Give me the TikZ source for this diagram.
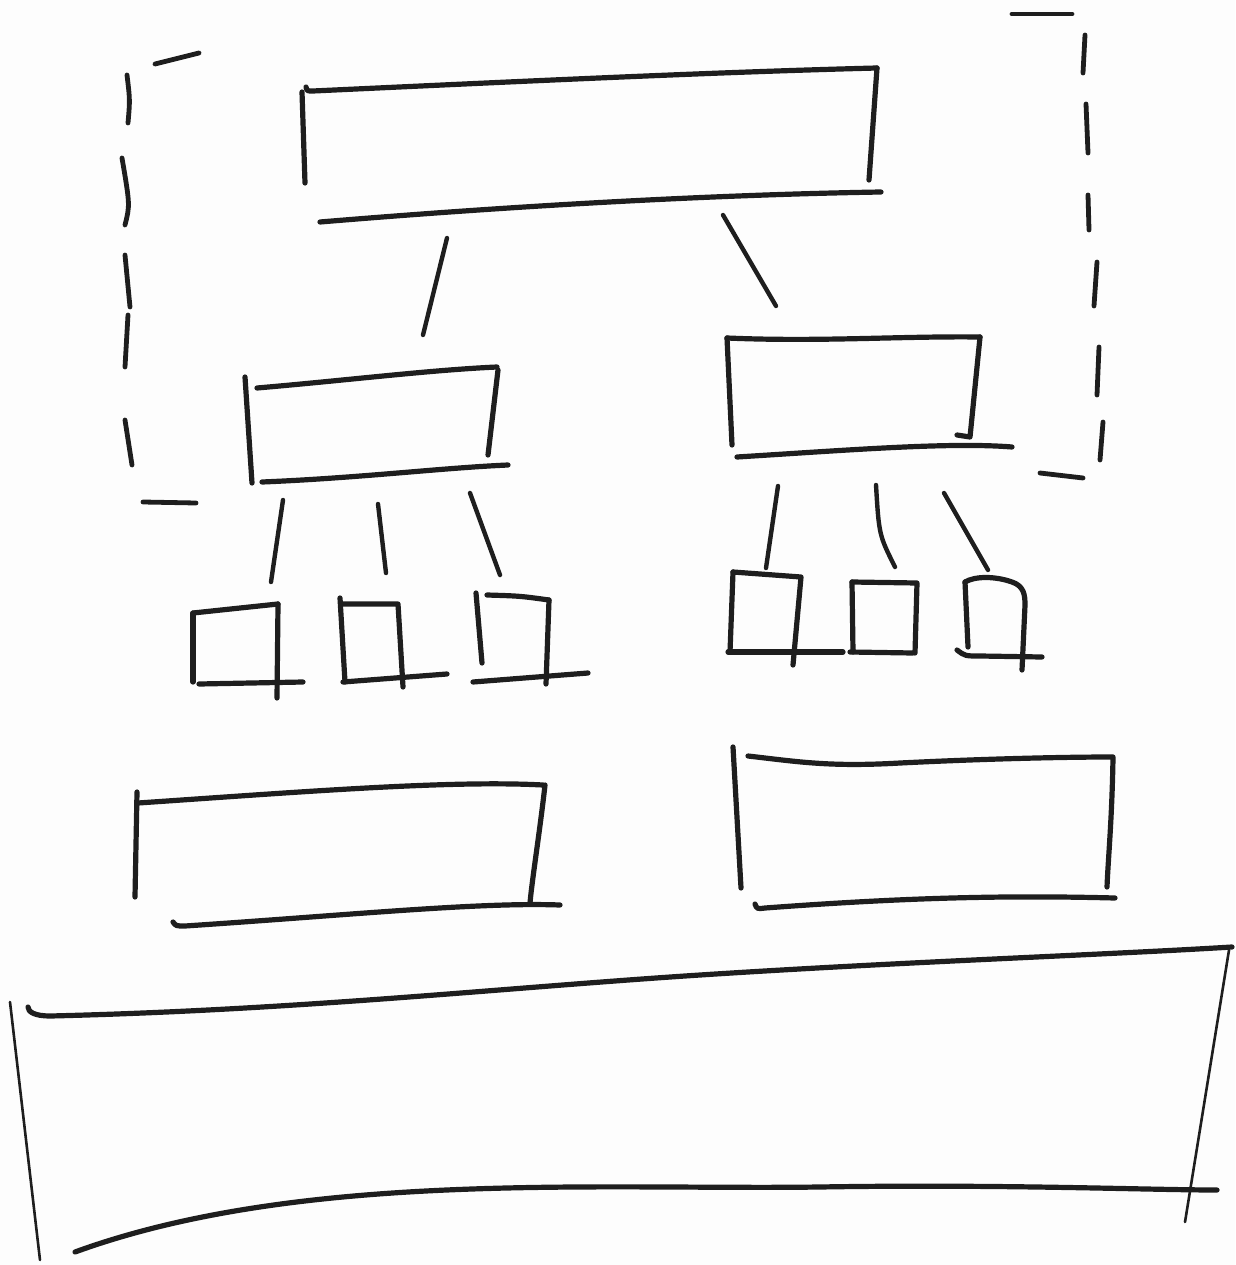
\documentclass[tikz,border=0pt]{standalone}
\begin{document}
\begin{tikzpicture}[x=1pt,y=-1pt,
  pen/.style={line width=5.2pt,line cap=round,line join=round,draw=ink},
  conn/.style={line width=4.4pt,line cap=round,draw=ink},
  dashstroke/.style={line width=4.8pt,line cap=round,draw=ink},
  thinpen/.style={line width=2.6pt,line cap=round,draw=ink}]
\definecolor{ink}{HTML}{1E1E1E}
\definecolor{paper}{HTML}{FDFDFD}
\path[fill=paper] (0,0) rectangle (1235,1265);
\useasboundingbox (0,0) rectangle (1235,1265);

% ---------- dashed bracket (left) ----------
\draw[dashstroke] (155,64) -- (199,53);
\draw[dashstroke] (127,75) .. controls (130,100) .. (128,123);
\draw[dashstroke] (122,158) .. controls (130,205) .. (125,225);
\draw[dashstroke] (125,255) -- (130,307);
\draw[dashstroke] (128,315) -- (125,367);
\draw[dashstroke] (125,420) -- (132,465);
\draw[dashstroke] (143,502) -- (196,503);
% ---------- dashed bracket (right) ----------
\draw[dashstroke] (1012,14) -- (1072,14);
\draw[dashstroke] (1085,35) -- (1083,73);
\draw[dashstroke] (1086,104) -- (1088,153);
\draw[dashstroke] (1088,195) -- (1089,230);
\draw[dashstroke] (1097,262) -- (1094,306);
\draw[dashstroke] (1099,347) -- (1097,395);
\draw[dashstroke] (1103,422) -- (1100,460);
\draw[dashstroke] (1040,473) -- (1083,478);

% ---------- top box ----------
\draw[pen] (306,87) .. controls (307,91) .. (313,91) .. controls (550,80) and (720,72) .. (877,68);
\draw[pen] (302,92) -- (305,183);
\draw[pen] (877,68) -- (869,180);
\draw[pen] (320,222) .. controls (500,207) and (700,195) .. (881,192);
\coordinate (topL) at (447,238);
\coordinate (topR) at (723,215);

% ---------- middle left box ----------
\draw[pen] (257,388) .. controls (350,380) and (430,370) .. (497,367);
\draw[pen] (245,377) -- (252,483);
\draw[pen] (498,370) -- (488,455);
\draw[pen] (262,482) .. controls (360,478) and (440,468) .. (508,465);
\coordinate (mlIn) at (423,335);
\coordinate (mlA) at (283,500);
\coordinate (mlB) at (378,504);
\coordinate (mlC) at (470,493);

% ---------- middle right box ----------
\draw[pen] (727,338) .. controls (820,342) and (900,336) .. (980,337);
\draw[pen] (727,338) -- (732,445);
\draw[pen] (980,337) -- (970,437) -- (957,435);
\draw[pen] (737,457) .. controls (850,450) and (950,442) .. (1012,447);
\coordinate (mrIn) at (776,306);
\coordinate (mrA) at (778,486);
\coordinate (mrB) at (876,485);
\coordinate (mrC) at (944,493);

% ---------- connectors ----------
\draw[conn] (topL) -- (mlIn);
\draw[conn] (topR) -- (mrIn);
\coordinate (c1) at (271,582);
\coordinate (c2) at (386,573);
\coordinate (c3) at (500,575);
\coordinate (c4) at (766,568);
\coordinate (c5) at (895,567);
\coordinate (c6) at (988,570);
\draw[conn] (mlA) -- (c1);
\draw[conn] (mlB) -- (c2);
\draw[conn] (mlC) -- (c3);
\draw[conn] (mrA) -- (c4);
\draw[conn] (mrB) .. controls (879,535) .. (c5);
\draw[conn] (mrC) -- (c6);

% ---------- small boxes left ----------
\draw[pen] (193,613) -- (193,682);
\draw[pen] (193,613) .. controls (240,608) .. (278,604);
\draw[pen] (278,604) -- (277,698);
\draw[pen] (199,684) -- (303,682);

\draw[pen] (340,598) -- (345,682);
\draw[pen] (343,604) -- (398,604) -- (403,687);
\draw[pen] (343,682) -- (447,674);

\draw[pen] (476,593) -- (482,663);
\draw[pen] (487,595) .. controls (520,596) .. (549,600);
\draw[pen] (549,600) -- (546,684);
\draw[pen] (473,682) -- (588,673);

% ---------- small boxes right ----------
\draw[pen] (733,572) -- (730,652);
\draw[pen] (733,572) -- (801,577) -- (793,665);
\draw[pen] (728,652) -- (843,652);
\draw[pen] (852,582) -- (853,652);
\draw[pen] (852,582) -- (917,583) -- (915,653);
\draw[pen] (850,652) -- (913,653);
\draw[pen] (965,582) -- (968,647);
\draw[pen] (965,582) .. controls (975,576) and (995,576) .. (1012,582)
  .. controls (1024,586) and (1025,595) .. (1025,605) -- (1022,670);
\draw[pen] (957,650) .. controls (965,656) .. (980,656) -- (1042,657);

% ---------- lower boxes ----------
\draw[pen] (137,792) -- (135,897);
\draw[pen] (138,803) .. controls (300,792) and (450,780) .. (543,785);
\draw[pen] (545,785) .. controls (540,830) and (532,880) .. (530,903);
\draw[pen] (173,922) .. controls (176,926) .. (185,926) .. controls (350,915) and (480,902) .. (560,905);

\draw[pen] (733,747) -- (741,888);
\draw[pen] (748,756) .. controls (800,762) and (830,767) .. (900,763) .. controls (980,759) and (1060,757) .. (1112,757);
\draw[pen] (1113,757) .. controls (1112,820) and (1108,860) .. (1107,887);
\draw[pen] (755,904) .. controls (757,909) .. (765,908) .. controls (900,898) and (1000,895) .. (1115,898);

% ---------- big bottom box ----------
\draw[pen] (28,1007) .. controls (28,1012) and (35,1016) .. (50,1016) .. controls (300,1010) and (500,988) .. (700,975) .. controls (900,962) and (1100,955) .. (1232,947);
\draw[thinpen] (10,1002) -- (40,1260);
\draw[thinpen] (1229,950) -- (1185,1222);
\draw[pen] (75,1252) .. controls (300,1170) and (600,1190) .. (819,1187) .. controls (1000,1184) and (1150,1190) .. (1217,1190);
\end{tikzpicture}
\end{document}
